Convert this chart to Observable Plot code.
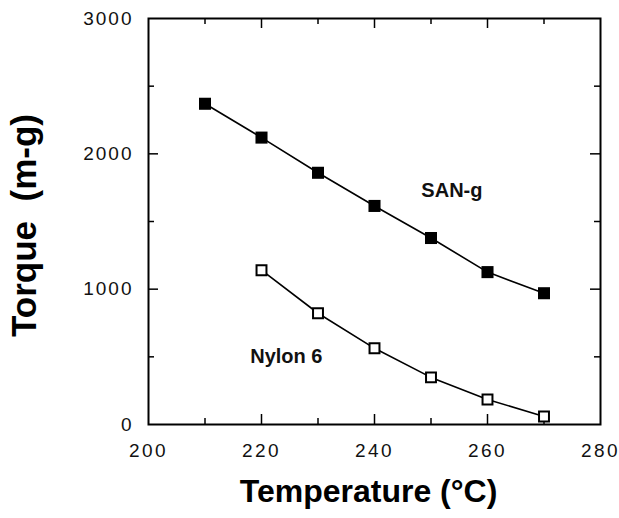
<!DOCTYPE html>
<html>
<head>
<meta charset="utf-8">
<script src="https://cdn.jsdelivr.net/npm/d3@7"></script>
<script src="https://cdn.jsdelivr.net/npm/@observablehq/plot@0.6"></script>
<style>
  html, body { margin: 0; padding: 0; background: #fff; }
  svg { font-family: "Liberation Sans", Arial, Helvetica, sans-serif; }
  g[aria-label="x-axis tick label"] text { letter-spacing: 2.5px; }
  g[aria-label="y-axis tick label"] text { letter-spacing: 2px; }
  g[aria-label="x-title"] text { letter-spacing: 1.5px; }
</style>
</head>
<body>
<div id="chart"></div>
<script>
// Torque vs. temperature for the two melts
const temperature = [210, 220, 230, 240, 250, 260, 270];
const sanG = [2370, 2120, 1860, 1615, 1378, 1126, 970];
const nylonTemps = [220, 230, 240, 250, 260, 270];
const nylon6 = [1140, 822, 563, 348, 185, 59];

const seriesLabels = [
  {name: "SAN-g", x: 253.7, y: 1726},
  {name: "Nylon 6", x: 224.4, y: 505}
];

const xTickLabels = [200, 220, 240, 260, 280];
const yTickLabels = [0, 1000, 2000, 3000];
const xMajor = [220, 240, 260];
const xMinor = [210, 230, 250, 270];
const yMajor = [1000, 2000];
const yMinor = [500, 1500, 2500];

const W = 619, H = 518;
const M = {left: 148, right: 19, top: 18, bottom: 94};
const frameW = W - M.left - M.right;
const frameH = H - M.top - M.bottom;

const sanRows = temperature.map((t, i) => ({t, v: sanG[i]}));
const nylonRows = nylonTemps.map((t, i) => ({t, v: nylon6[i]}));

// inward tick marks: rules inset so that only a short stub remains at each edge
const tickOpts = {stroke: "#000", strokeWidth: 1.5};
const xTicks = (values, len) => [
  Plot.ruleX(values, {x: d => d, insetTop: frameH - len, ...tickOpts}),
  Plot.ruleX(values, {x: d => d, insetBottom: frameH - len, ...tickOpts})
];
const yTicks = (values, len) => [
  Plot.ruleY(values, {y: d => d, insetRight: frameW - len, ...tickOpts}),
  Plot.ruleY(values, {y: d => d, insetLeft: frameW - len, ...tickOpts})
];

const chart = Plot.plot({
  width: W,
  height: H,
  marginLeft: M.left,
  marginRight: M.right,
  marginTop: M.top,
  marginBottom: M.bottom,
  x: {domain: [200, 280]},
  y: {domain: [0, 3000]},
  marks: [
    ...xTicks(xMajor, 10),
    ...xTicks(xMinor, 6),
    ...yTicks(yMajor, 10),
    ...yTicks(yMinor, 6),
    // tick labels
    Plot.axisX(xTickLabels, {anchor: "bottom", tickSize: 0, tickPadding: 19, label: null,
      fontSize: 19, fill: "#111", tickFormat: d3.format("d")}),
    Plot.axisY(yTickLabels, {anchor: "left", tickSize: 0, tickPadding: 15, label: null,
      fontSize: 19, fill: "#111", tickFormat: d3.format("d")}),
    Plot.frame({stroke: "#000", strokeWidth: 2}),
    // series
    Plot.line(sanRows, {x: "t", y: "v", stroke: "#000", strokeWidth: 1.6}),
    Plot.line(nylonRows, {x: "t", y: "v", stroke: "#000", strokeWidth: 1.6}),
    Plot.dot(sanRows, {x: "t", y: "v", symbol: "square", r: 6.8, fill: "#000", stroke: "none"}),
    Plot.dot(nylonRows, {x: "t", y: "v", symbol: "square", r: 5.6, fill: "#fff", stroke: "#000", strokeWidth: 2}),
    // series names
    Plot.text(seriesLabels, {x: "x", y: "y", text: "name", fontSize: 20, fontWeight: "bold", fill: "#111"}),
    // axis titles
    Plot.text(["Temperature (°C)"], {frameAnchor: "bottom", lineAnchor: "middle", textAnchor: "middle",
      dx: -6, dy: 67, fontSize: 32, fontWeight: "bold", fill: "#000", ariaLabel: "x-title"}),
    Plot.text(["Torque  (m-g)"], {frameAnchor: "left", lineAnchor: "middle", textAnchor: "middle",
      dx: -124, dy: 4, rotate: -90, fontSize: 35, fontWeight: "bold", fill: "#000",
      style: "white-space: pre"})
  ]
});

document.getElementById("chart").appendChild(chart);
</script>
</body>
</html>
